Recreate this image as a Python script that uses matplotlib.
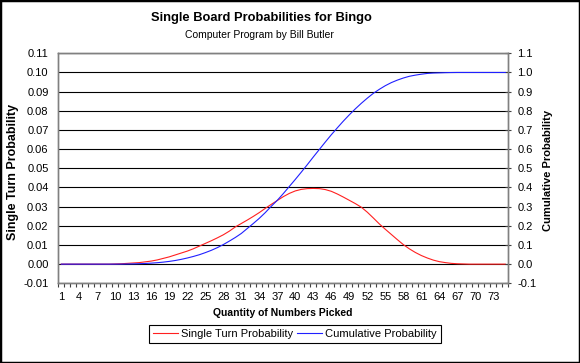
import matplotlib
matplotlib.use("Agg")
import matplotlib.pyplot as plt
from matplotlib.patches import Rectangle
import numpy as np

plt.rcParams['font.family'] = ['Liberation Sans', 'DejaVu Sans']

# ---- data ----
picks = list(range(1, 76))

single_turn = [
    0, 0, 0, 0, 0, 0, 0, 0, 0,            # 1-9
    0.0001, 0.0002, 0.0004, 0.0006, 0.0008,  # 10-14
    0.0012, 0.0016, 0.0022, 0.0030, 0.0038,  # 15-19
    0.0048, 0.0058, 0.0068, 0.0080, 0.0094,  # 20-24
    0.0108, 0.0122, 0.0137, 0.0153, 0.0172,  # 25-29
    0.0194, 0.0212, 0.0230, 0.0249, 0.0269,  # 30-34
    0.0291, 0.0312, 0.0332, 0.0352, 0.0369,  # 35-39
    0.0382, 0.0390, 0.0394, 0.0395, 0.0394,  # 40-44
    0.0389, 0.0380, 0.0366, 0.0350, 0.0333,  # 45-49
    0.0316, 0.0297, 0.0271, 0.0241, 0.0210,  # 50-54
    0.0182, 0.0155, 0.0128, 0.0102, 0.0080,  # 55-59
    0.0061, 0.0045, 0.0032, 0.0021, 0.0013,  # 60-64
    0.0008, 0.0004, 0.0002, 0.0001, 0,       # 65-69
    0, 0, 0, 0, 0, 0,                        # 70-75
]

cumulative = [
    0, 0, 0, 0, 0, 0, 0, 0, 0,            # 1-9
    0.0001, 0.0003, 0.0007, 0.0013, 0.0022,  # 10-14
    0.0035, 0.0052, 0.0075, 0.0105, 0.0143,  # 15-19
    0.019, 0.025, 0.032, 0.040, 0.049,       # 20-24
    0.060, 0.072, 0.086, 0.102, 0.120,       # 25-29
    0.139, 0.160, 0.186, 0.212, 0.239,       # 30-34
    0.269, 0.302, 0.333, 0.368, 0.405,       # 35-39
    0.442, 0.480, 0.519, 0.559, 0.598,       # 40-44
    0.637, 0.675, 0.711, 0.746, 0.779,       # 45-49
    0.810, 0.839, 0.866, 0.891, 0.912,       # 50-54
    0.931, 0.947, 0.960, 0.971, 0.980,       # 55-59
    0.986, 0.991, 0.995, 0.997, 0.998,       # 60-64
    0.999, 0.9996, 1.0, 1.0, 1.0,            # 65-69
    1.0, 1.0, 1.0, 1.0, 1.0, 1.0,            # 70-75
]

x_tick_labels = [str(v) for v in range(1, 76, 3)]
left_ticks = [round(-0.01 + 0.01 * i, 2) for i in range(13)]
right_ticks = [round(-0.1 + 0.1 * i, 1) for i in range(13)]

# ---- figure ----
W, H = 580, 363
fig = plt.figure(figsize=(W / 100, H / 100), dpi=100)
L, R, T, B = 58.3, 508.3, 53.3, 283.3
ax = fig.add_axes([L / W, 1 - B / H, (R - L) / W, (B - T) / H])
ax2 = ax.twinx()

ax.set_xlim(0.5, 75.5)
ax.set_ylim(-0.01, 0.11)
ax2.set_ylim(-0.1, 1.1)

ax.set_yticks(left_ticks)
ax.set_yticklabels([f"{v:.2f}" for v in left_ticks])
ax2.set_yticks(right_ticks)
ax2.set_yticklabels([f"{v:.1f}" for v in right_ticks])

ax.set_xticks(list(range(1, 76, 3)))
ax.set_xticklabels(x_tick_labels)
ax.set_xticks([0.5 + k for k in range(76)], minor=True)

ax.yaxis.grid(True, color='black', lw=0.8)
ax.set_axisbelow(True)

for a in (ax, ax2):
    for s in a.spines.values():
        s.set_color('#808080')
        s.set_linewidth(1.0)

ax.tick_params(axis='y', length=0, pad=7, labelsize=8, colors='black')
ax.tick_params(axis='x', which='major', length=0, pad=6, labelsize=8)
ax.tick_params(axis='x', which='minor', length=3, width=0.8, color='#404040', direction='out')
ax2.tick_params(axis='y', length=5, width=0.8, direction='inout', pad=4,
                labelsize=8, color='#404040')

l1, = ax.plot(picks, single_turn, color='#ff2020', lw=0.8, label='Single Turn Probability')
l2, = ax2.plot(picks, cumulative, color='#2020ff', lw=0.8, label='Cumulative Probability')

# titles and labels
fig.text(261 / W, 1 - 17.5 / H, 'Single Board Probabilities for Bingo',
         ha='center', va='center', fontsize=9.3, fontweight='bold')
fig.text(259 / W, 1 - 34.5 / H, 'Computer Program by Bill Butler',
         ha='center', va='center', fontsize=7.5)
fig.text(283 / W, 1 - 313 / H, 'Quantity of Numbers Picked',
         ha='center', va='center', fontsize=7.5, fontweight='bold')
fig.text(13 / W, 1 - 171.5 / H, 'Single Turn Probability', rotation=90,
         ha='center', va='center', fontsize=9, fontweight='bold')
fig.text(548 / W, 1 - 170 / H, 'Cumulative Probability', rotation=90,
         ha='center', va='center', fontsize=8, fontweight='bold')

leg = fig.legend(handles=[l1, l2], loc='center', ncol=2,
                 bbox_to_anchor=(295 / W, 1 - 333.7 / H), fontsize=8,
                 frameon=True, fancybox=False, framealpha=1, edgecolor='black',
                 handlelength=2.2, handletextpad=0.3, columnspacing=0.4,
                 borderpad=0.35, borderaxespad=0)
leg.get_frame().set_linewidth(0.8)

fig.patches.append(Rectangle((0, 0), 1, 1, transform=fig.transFigure,
                             fill=False, ec='black', lw=2.5))

fig.savefig('out.png', dpi=100)
